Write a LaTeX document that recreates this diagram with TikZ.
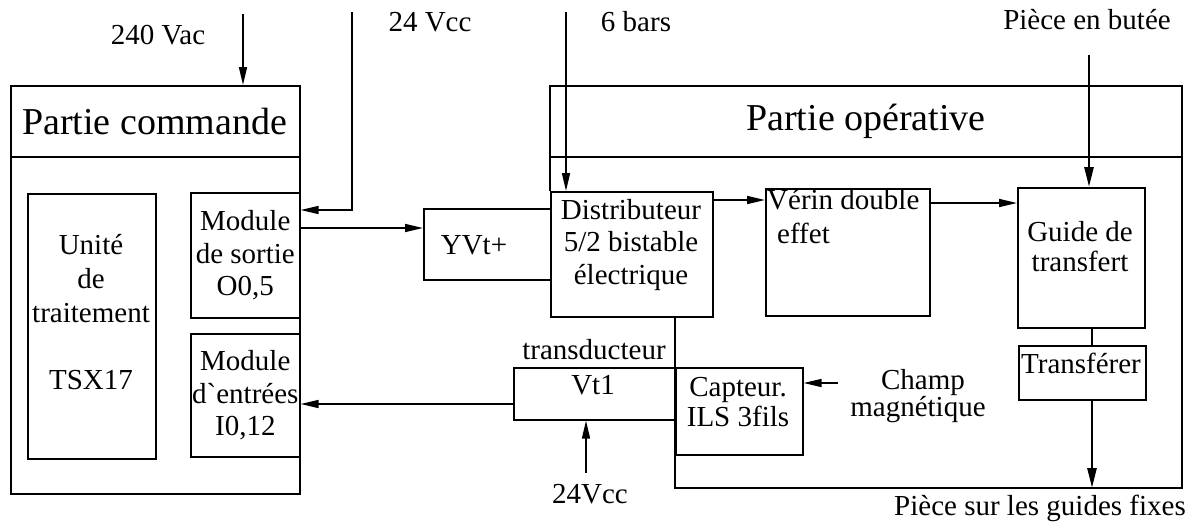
\documentclass[tikz,border=0pt]{standalone}
\usepackage{fontspec}
\setmainfont{Liberation Serif}[Ligatures=TeXOff]
\usetikzlibrary{arrows.meta}
\begin{document}
\begin{tikzpicture}[x=1pt,y=-1pt,
  box/.style={draw,line width=1.6pt,inner sep=0pt,anchor=north west},
  txt/.style={inner sep=0pt,font=\fontsize{29}{32.5}\selectfont,align=center},
  big/.style={inner sep=0pt,font=\fontsize{38}{40}\selectfont},
  ln/.style={line width=1.6pt},
  arr/.style={line width=1.6pt,-{Triangle[length=18pt,width=8pt]}},
  thickarr/.style={line width=2.6pt,-{Triangle[length=20pt,width=9pt]}}]
\useasboundingbox (0,0) rectangle (1192,523);
% helper coordinates
\coordinate (h157) at (0,157);
\coordinate (c210) at (0,210);
\coordinate (c228) at (0,228);
\coordinate (c200) at (0,200);
\coordinate (c203) at (0,203);
\coordinate (c404) at (0,404);
\coordinate (c1092) at (1092,0);
\coordinate (bl) at (0,488);
% Partie commande
\node[box,minimum width=289pt,minimum height=408pt] (pc) at (10,85) {};
\draw[ln] (pc.west |- h157) -- (pc.east |- h157);
\node[big] (pct) at (154.5,121) {Partie commande};
\node[box,minimum width=128pt,minimum height=265pt] (ut) at (27,193) {};
\node[txt,font=\fontsize{29}{34}\selectfont] (utt) at (91,279) {Unité\\de\\traitement};
\node[txt] (tsx) at (91,380) {TSX17};
\node[box,minimum width=109pt,minimum height=125pt,txt] (ms) at (190,192) {Module\\de sortie\\O0,5};
\node[box,minimum width=109pt,minimum height=123pt,txt] (me) at (190,333) {Module\\d`entrées\\I0,12};
% supplies top left
\coordinate (v240) at (243,14);
\draw[arr] (v240) -- (v240 |- pc.north);
\node[txt] (l240) at (158,35) {240 Vac};
\coordinate (v24) at (352,12);
\draw[arr] (v24) |- (ms.east |- c210);
\node[txt] (l24) at (430,22) {24 Vcc};
% YVt+
\node[box,minimum width=127pt,minimum height=71pt] (yv) at (423,208) {};
\node[txt] (yvt) at (474,245) {YVt+};
\draw[arr] (ms.east |- c228) -- (yv.west |- c228);
% Partie operative
\node[box,minimum width=162pt,minimum height=125pt] (di) at (550,191) {};
\node[txt] (dit) at (631,245) {Distributeur\\5/2 bistable\\électrique};
\coordinate (potl) at (550,86);
\coordinate (potr) at (1182,86);
\coordinate (pobr) at (1182,488);
\coordinate (pobl) at (675,488);
\draw[ln] (di.north west) -- (potl) -- (potr) -- (pobr) -- (pobl) -- (pobl |- di.south);
\draw[ln] (potl |- h157) -- (potr |- h157);
\node[big] (pot) at (866,121) {Partie opérative};
\coordinate (b6) at (566,12);
\draw[arr] (b6) -- (b6 |- di.north);
\node[txt] (l6) at (636,22) {6 bars};
% Verin
\node[box,minimum width=164pt,minimum height=127pt] (ve) at (765,188) {};
\node[txt,anchor=west] (vet1) at (767,200) {Vérin double};
\node[txt,anchor=west] (vet2) at (777,233) {effet};
\draw[arr] (di.east |- c200) -- (ve.west |- c200);
% Guide
\node[box,minimum width=127pt,minimum height=140pt] (gu) at (1017,187) {};
\node[txt,font=\fontsize{29}{30}\selectfont] (gut) at (1080,247) {Guide de\\transfert};
\draw[arr] (ve.east |- c203) -- (gu.west |- c203);
\coordinate (pb) at (1089,55);
\draw[thickarr] (pb) -- (pb |- gu.north);
\node[txt] (lpb) at (1087,20) {Pièce en butée};
% Transferer
\node[box,minimum width=127pt,minimum height=54pt] (tr) at (1018,345) {};
\node[txt] (trt) at (1081,363) {Transférer};
\draw[ln] (gu.south -| c1092) -- (tr.north -| c1092);
\draw[thickarr] (tr.south -| c1092) -- (c1092 |- bl);
\node[txt] (lps) at (1040,508) {Pièce sur les guides fixes};
% Capteur and transducteur
\node[box,minimum width=127pt,minimum height=87pt] (ca) at (675,367) {};
\node[txt,font=\fontsize{29}{30}\selectfont] (cat) at (738,402) {Capteur.\\ILS 3fils};
\node[box,minimum width=162pt,minimum height=52pt] (vt) at (513,367) {};
\node[txt] (vtt) at (593,385) {Vt1};
\node[txt] (ltr) at (594,350) {transducteur};
\draw[arr] (vt.west |- c404) -- (me.east |- c404);
\coordinate (b24) at (586,473);
\draw[arr] (b24) -- (b24 |- vt.south);
\node[txt] (l24b) at (590,494) {24Vcc};
\coordinate (ch) at (838,383);
\draw[arr] (ch) -- (ca.east |- ch);
\node[txt] (lch) at (923,383) {Champ};
\node[txt] (lmg) at (918,410) {magnétique};
\end{tikzpicture}
\end{document}
